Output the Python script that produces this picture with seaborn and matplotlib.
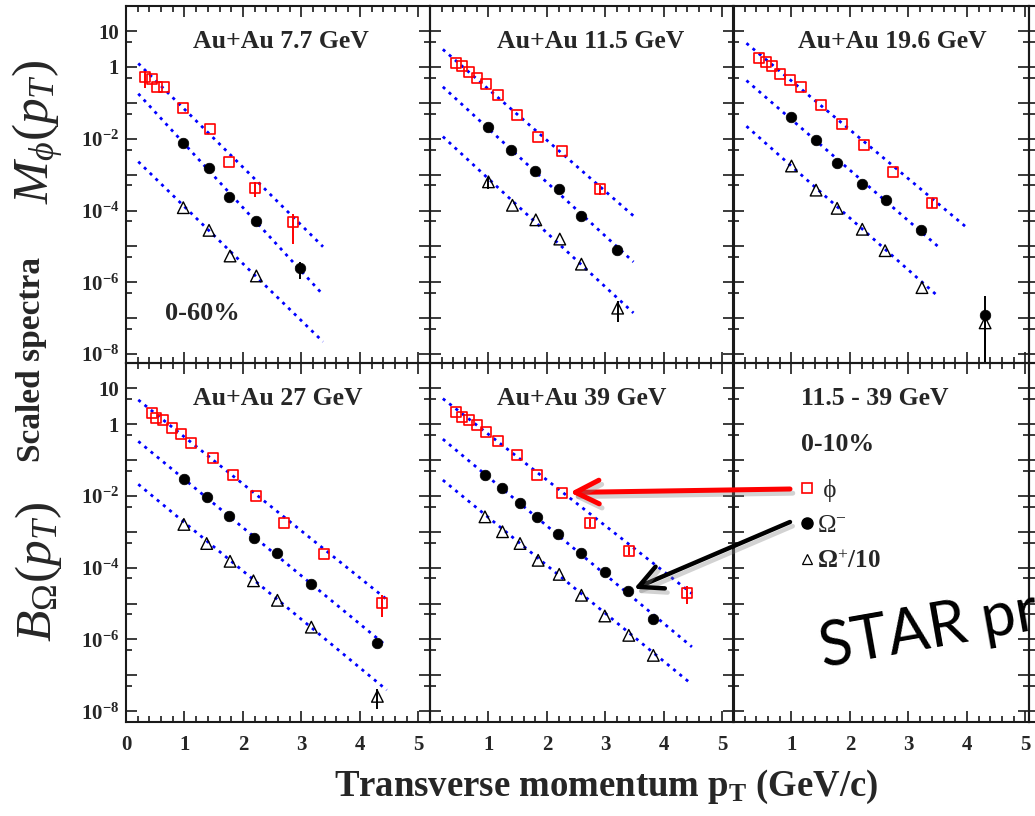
import numpy as np
import matplotlib
matplotlib.use("Agg")
import matplotlib.pyplot as plt
import matplotlib.patheffects as pe
from matplotlib.lines import Line2D
from matplotlib.patches import ConnectionPatch
from matplotlib.ticker import MultipleLocator, FixedLocator, NullFormatter
import seaborn as sns

# ---------------------------------------------------------------- data
# Au+Au 7.7 GeV (0-60%)
phi_pt_7 = [0.33, 0.45, 0.53, 0.65, 0.97, 1.44, 1.76, 2.20, 2.86]
phi_7 = [0.51, 0.47, 0.27, 0.27, 0.072, 0.019, 2.3e-3, 4.2e-4, 4.7e-5]
phi_err_7 = [0.5, 0, 0, 0, 0, 0, 0, 0.45, 0.75]
om_pt_7 = [0.98, 1.42, 1.77, 2.23, 2.97]
om_7 = [7.8e-3, 1.5e-3, 2.4e-4, 5.1e-5, 2.5e-6]
om_err_7 = [0, 0, 0, 0, 0.5]
ap_pt_7 = [0.98, 1.42, 1.78, 2.23]
ap_7 = [1.2e-4, 2.8e-5, 5.4e-6, 1.5e-6]
ap_err_7 = [0, 0, 0, 0]
fit_pt_phi_7 = [0.21, 3.37]
fit_phi_7 = [1.26, 9.8e-6]
fit_pt_om_7 = [0.21, 3.37]
fit_om_7 = [0.18, 4.5e-7]
fit_ap_7 = [2.3e-3, 2.2e-8]

# Au+Au 11.5 GeV
phi_pt_11 = [0.44, 0.55, 0.66, 0.81, 0.96, 1.16, 1.48, 1.84, 2.25, 2.91]
phi_11 = [1.26, 1.06, 0.71, 0.48, 0.33, 0.17, 0.045, 0.0115, 4.6e-3, 3.9e-4]
phi_err_11 = [0, 0, 0, 0, 0, 0, 0, 0, 0, 0.3]
om_pt_11 = [1.00, 1.38, 1.79, 2.21, 2.59, 3.20]
om_11 = [0.021, 4.9e-3, 1.26e-3, 4.1e-4, 7.2e-5, 7.9e-6]
om_err_11 = [0, 0, 0, 0, 0, 0]
ap_pt_11 = [1.00, 1.41, 1.81, 2.22, 2.59, 3.21]
ap_11 = [6.3e-4, 1.4e-4, 5.5e-5, 1.6e-5, 3.2e-6, 1.9e-7]
ap_err_11 = [0.35, 0, 0, 0, 0, 0.6]
fit_pt_phi_11 = [0.22, 3.48]
fit_phi_11 = [3.1, 7.1e-5]
fit_pt_om_11 = [0.22, 3.48]
fit_om_11 = [0.28, 3.7e-6]
fit_ap_11 = [0.0115, 1.4e-7]

# Au+Au 19.6 GeV
phi_pt_19 = [0.45, 0.56, 0.67, 0.81, 0.97, 1.17, 1.50, 1.87, 2.24, 2.74, 3.40]
phi_19 = [1.74, 1.40, 1.06, 0.63, 0.43, 0.27, 0.087, 0.025, 6.6e-3, 1.2e-3, 1.66e-4]
phi_err_19 = [0, 0, 0, 0, 0, 0, 0, 0, 0, 0, 0.3]
om_pt_19 = [1.00, 1.42, 1.78, 2.21, 2.61, 3.21, 4.31]
om_19 = [0.040, 9.1e-3, 2.1e-3, 5.5e-4, 1.95e-4, 2.9e-5, 1.23e-7]
om_err_19 = [0, 0, 0, 0, 0, 0, 2.4]
ap_pt_19 = [1.00, 1.42, 1.78, 2.21, 2.60, 3.23, 4.31]
ap_19 = [1.74e-3, 3.7e-4, 1.15e-4, 3.0e-5, 7.6e-6, 7.1e-7, 7.4e-8]
ap_err_19 = [0, 0, 0, 0, 0, 0, 1.5]
fit_pt_phi_19 = [0.23, 4.00]
fit_phi_19 = [4.6, 3.3e-5]
fit_pt_om_19 = [0.23, 3.51]
fit_om_19 = [0.42, 9.8e-6]
fit_ap_19 = [0.0224, 4.0e-7]

# Au+Au 27 GeV
phi_pt_27 = [0.44, 0.52, 0.64, 0.78, 0.94, 1.12, 1.48, 1.83, 2.22, 2.70, 3.38, 4.38]
phi_27 = [1.97, 1.51, 1.29, 0.79, 0.52, 0.30, 0.115, 0.037, 9.8e-3, 1.8e-3, 2.4e-4, 1.05e-5]
phi_err_27 = [0, 0, 0, 0, 0, 0, 0, 0, 0, 0, 0, 0.6]
om_pt_27 = [0.99, 1.38, 1.77, 2.19, 2.59, 3.17, 4.29]
om_27 = [0.0295, 9.3e-3, 2.7e-3, 6.9e-4, 2.6e-4, 3.4e-5, 8.1e-7]
om_err_27 = [0, 0, 0, 0, 0, 0, 0]
ap_pt_27 = [0.99, 1.38, 1.78, 2.18, 2.59, 3.17, 4.30]
ap_27 = [1.6e-3, 4.7e-4, 1.5e-4, 4.3e-5, 1.23e-5, 2.2e-6, 2.6e-8]
ap_err_27 = [0, 0, 0, 0, 0, 0, 0.55]
fit_pt_phi_27 = [0.21, 4.46]
fit_phi_27 = [4.7, 1.3e-5]
fit_pt_om_27 = [0.21, 4.46]
fit_om_27 = [0.33, 6.5e-7]
fit_ap_27 = [0.021, 3.9e-8]

# Au+Au 39 GeV
phi_pt_39 = [0.44, 0.55, 0.66, 0.81, 0.96, 1.16, 1.48, 1.83, 2.25, 2.74, 3.41, 4.40]
phi_39 = [2.19, 1.58, 1.29, 0.93, 0.60, 0.33, 0.138, 0.038, 0.0123, 1.8e-3, 2.95e-4, 2.0e-5]
phi_err_39 = [0, 0, 0, 0, 0, 0, 0, 0, 0, 0.25, 0.25, 0.5]
om_pt_39 = [0.94, 1.24, 1.54, 1.83, 2.19, 2.59, 2.99, 3.39, 3.81]
om_39 = [0.038, 0.017, 6.5e-3, 2.5e-3, 8.9e-4, 2.5e-4, 7.4e-5, 2.2e-5, 3.8e-6]
om_err_39 = [0, 0, 0, 0, 0, 0, 0, 0, 0]
ap_pt_39 = [0.94, 1.24, 1.54, 1.85, 2.21, 2.59, 2.99, 3.40, 3.82]
ap_39 = [2.6e-3, 1.0e-3, 4.7e-4, 1.6e-4, 6.5e-5, 1.7e-5, 4.5e-6, 1.3e-6, 3.6e-7]
ap_err_39 = [0, 0, 0, 0, 0, 0, 0, 0, 0]
fit_pt_phi_39 = [0.22, 4.48]
fit_phi_39 = [5.1, 1.9e-5]
fit_pt_om_39 = [0.22, 4.48]
fit_om_39 = [0.38, 6.2e-7]
fit_ap_39 = [0.0275, 5.6e-8]

titles = ["Au+Au 7.7 GeV", "Au+Au 11.5 GeV", "Au+Au 19.6 GeV",
          "Au+Au 27 GeV", "Au+Au 39 GeV"]
legend_labels = [" \u03d5", "\u03a9$^{-}$", "\u03a9$^{+}$/10"]

y_tick_exp = list(range(-8, 2))
y_tick_labels = [r"$\mathbf{10^{-8}}$", "", r"$\mathbf{10^{-6}}$", "",
                 r"$\mathbf{10^{-4}}$", "", r"$\mathbf{10^{-2}}$", "", "1", "10"]
x_tick_values = [0, 1, 2, 3, 4, 5]

# ---------------------------------------------------------------- style
sns.set_theme(style="ticks")
plt.rcParams["font.family"] = ["Liberation Serif", "DejaVu Serif"]
plt.rcParams["font.weight"] = "bold"
plt.rcParams["mathtext.fontset"] = "custom"
plt.rcParams["mathtext.rm"] = "Liberation Serif:weight=normal"
plt.rcParams["mathtext.it"] = "Liberation Serif:style=italic:weight=normal"
plt.rcParams["mathtext.bf"] = "Liberation Serif:weight=bold"

FIT_BLUE = "#0000ff"
FRAME = "#1a1a1a"
species_style = {
    "phi": dict(marker="s", s=52, facecolor="none", edgecolor="red", linewidth=1.2),
    "om": dict(marker="o", s=58, facecolor="black", edgecolor="black", linewidth=0.5),
    "ap": dict(marker="^", s=70, facecolor="none", edgecolor="black", linewidth=1.0),
}
err_color = {"phi": "red", "om": "black", "ap": "black"}

W, H = 1035, 816
fig = plt.figure(figsize=(W / 100, H / 100), dpi=100)
fig.patch.set_facecolor("white")

col_px = [(126, 430), (430, 734), (733, 1029), (1029, 1333)]
row_px = [(6, 363), (363, 722)]
x_right = [5.2, 5.2, 5.06, 5.2]
y_limits = [(10 ** -8.25, 10 ** 1.70), (10 ** -8.30, 10 ** 1.70)]


def make_panel(row, col, show_labels=True):
    x0, x1 = col_px[col]
    y0, y1 = row_px[row]
    ax = fig.add_axes([x0 / W, 1 - y1 / H, (x1 - x0) / W, (y1 - y0) / H])
    ax.patch.set_alpha(0)
    ax.set_yscale("log")
    ax.set_xlim(0, x_right[col])
    ax.set_ylim(*y_limits[row])
    ax.set_yticks([10.0 ** k for k in y_tick_exp])
    if col == 0:
        ax.set_yticklabels(y_tick_labels)
    else:
        ax.set_yticklabels([""] * len(y_tick_exp))
    ax.yaxis.set_minor_locator(FixedLocator([5 * 10.0 ** k for k in range(-10, 2)]))
    ax.yaxis.set_minor_formatter(NullFormatter())
    ax.set_xticks(x_tick_values)
    if row == 1 and show_labels:
        ax.set_xticklabels([str(v) if (v > 0 or col == 0) else "" for v in x_tick_values])
    else:
        ax.set_xticklabels([""] * len(x_tick_values))
    ax.xaxis.set_minor_locator(MultipleLocator(0.2))
    ax.tick_params(which="both", direction="in", top=True, right=True,
                   color=FRAME, width=1.2)
    ax.tick_params(which="major", length=8)
    ax.tick_params(which="minor", length=4)
    ax.tick_params(axis="y", labelsize=15, pad=5)
    ax.tick_params(axis="x", labelsize=15, pad=9)
    if not show_labels:
        ax.tick_params(labelbottom=False, labelleft=False)
    for lab in ax.get_xticklabels() + ax.get_yticklabels():
        lab.set_fontweight("bold")
    for sp in ax.spines.values():
        sp.set_color(FRAME)
        sp.set_linewidth(1.5)
    ax.set_xlabel("")
    ax.set_ylabel("")
    return ax


def draw_species(ax, kind, pt, val, rel_err, fit_pt, fit_val):
    sns.lineplot(x=fit_pt, y=fit_val, ax=ax, color=FIT_BLUE, linewidth=2.0,
                 linestyle=(0, (1.1, 1.8)), estimator=None, sort=False,
                 errorbar=None, zorder=2)
    pt = np.asarray(pt, dtype=float)
    val = np.asarray(val, dtype=float)
    err = np.asarray(rel_err, dtype=float) * val
    ax.errorbar(pt, val, yerr=err, fmt="none", ecolor=err_color[kind],
                elinewidth=1.4, capsize=0, zorder=3)
    sns.scatterplot(x=pt, y=val, ax=ax, zorder=4, **species_style[kind])


panel_data = [
    (0, 0, [("phi", phi_pt_7, phi_7, phi_err_7, fit_pt_phi_7, fit_phi_7),
            ("om", om_pt_7, om_7, om_err_7, fit_pt_om_7, fit_om_7),
            ("ap", ap_pt_7, ap_7, ap_err_7, fit_pt_om_7, fit_ap_7)]),
    (0, 1, [("phi", phi_pt_11, phi_11, phi_err_11, fit_pt_phi_11, fit_phi_11),
            ("om", om_pt_11, om_11, om_err_11, fit_pt_om_11, fit_om_11),
            ("ap", ap_pt_11, ap_11, ap_err_11, fit_pt_om_11, fit_ap_11)]),
    (0, 2, [("phi", phi_pt_19, phi_19, phi_err_19, fit_pt_phi_19, fit_phi_19),
            ("om", om_pt_19, om_19, om_err_19, fit_pt_om_19, fit_om_19),
            ("ap", ap_pt_19, ap_19, ap_err_19, fit_pt_om_19, fit_ap_19)]),
    (1, 0, [("phi", phi_pt_27, phi_27, phi_err_27, fit_pt_phi_27, fit_phi_27),
            ("om", om_pt_27, om_27, om_err_27, fit_pt_om_27, fit_om_27),
            ("ap", ap_pt_27, ap_27, ap_err_27, fit_pt_om_27, fit_ap_27)]),
    (1, 1, [("phi", phi_pt_39, phi_39, phi_err_39, fit_pt_phi_39, fit_phi_39),
            ("om", om_pt_39, om_39, om_err_39, fit_pt_om_39, fit_om_39),
            ("ap", ap_pt_39, ap_39, ap_err_39, fit_pt_om_39, fit_ap_39)]),
]

axes = {}
for (row, col, series), title in zip(panel_data, titles):
    ax = make_panel(row, col)
    axes[(row, col)] = ax
    for kind, pt, val, err, fpt, fval in series:
        draw_species(ax, kind, pt, val, err, fpt, fval)
    ax.text(0.22, 0.90, title, transform=ax.transAxes, fontsize=18.5,
            fontweight="bold", ha="left", va="center")

axes[(0, 0)].text(0.128, 0.14, "0-60%", transform=axes[(0, 0)].transAxes,
                  fontsize=19, fontweight="bold", ha="left", va="center")

# summary panel with the centrality note and the legend
ax_leg = make_panel(1, 2)
ax_leg.text(0.23, 0.90, "11.5 - 39 GeV", transform=ax_leg.transAxes,
            fontsize=18.5, fontweight="bold", ha="left", va="center")
ax_leg.text(0.23, 0.772, "0-10%", transform=ax_leg.transAxes,
            fontsize=18.5, fontweight="bold", ha="left", va="center")
handles = [
    Line2D([], [], ls="none", marker="s", ms=7, mfc="none", mec="red", mew=1.2),
    Line2D([], [], ls="none", marker="o", ms=8, mfc="black", mec="black"),
    Line2D([], [], ls="none", marker="^", ms=7.5, mfc="none", mec="black", mew=0.9),
]
leg = ax_leg.legend(handles, legend_labels, loc="upper left",
                    bbox_to_anchor=((798 - 733) / 296, 1 - (479 - 363) / 359),
                    frameon=False, fontsize=18, handlelength=0.75,
                    handletextpad=0.0, labelspacing=0.5, borderpad=0,
                    borderaxespad=0)
for i, t in enumerate(leg.get_texts()):
    t.set_fontweight("bold" if i == 2 else "normal")

# next column of the grid, only its edge shows
make_panel(0, 3, show_labels=False)
make_panel(1, 3, show_labels=False)

# axis titles
fig.text(38 / W, 1 - 132 / H, r"$M_{\phi}(p_{T})$", rotation=90,
         fontsize=37, ha="center", va="center")
fig.text(32 / W, 1 - 360 / H, "Scaled spectra", rotation=90,
         fontsize=24, fontweight="bold", ha="center", va="center")
fig.text(38 / W, 1 - 572 / H, r"$B_{\Omega}(p_{T})$", rotation=90,
         fontsize=37, ha="center", va="center")
fig.text(606 / W, 1 - 787 / H, r"Transverse momentum p$_{\mathbf{T}}$ (GeV/c)",
         fontsize=26.5, fontweight="bold", ha="center", va="center")

# arrows from the legend entries to the 39 GeV points
ax39 = axes[(1, 1)]
shadow = [pe.SimpleLineShadow(offset=(2, -3), shadow_color="gray", alpha=0.35),
          pe.Normal()]
red_arrow = ConnectionPatch(
    xyA=(790 / W, 1 - 489 / H), coordsA="figure fraction",
    xyB=(phi_pt_39[8], phi_39[8]), coordsB="data", axesB=ax39,
    arrowstyle="->,head_length=1.7,head_width=0.85", mutation_scale=10,
    color="red", linewidth=3.6, shrinkA=0, shrinkB=6)
red_arrow.set_path_effects(shadow)
fig.add_artist(red_arrow)
black_arrow = ConnectionPatch(
    xyA=(790 / W, 1 - 522 / H), coordsA="figure fraction",
    xyB=(om_pt_39[7], om_39[7]), coordsB="data", axesB=ax39,
    arrowstyle="->,head_length=1.7,head_width=0.85", mutation_scale=10,
    color="black", linewidth=3.2, shrinkA=0, shrinkB=4.5)
black_arrow.set_path_effects(shadow)
fig.add_artist(black_arrow)

fig.text(823 / W, 1 - 667 / H, "STAR preliminary", family="Lato",
         fontweight="normal", fontsize=44, rotation=10, rotation_mode="anchor",
         ha="left", va="baseline", color="black")

fig.savefig("out.png", dpi=100)
